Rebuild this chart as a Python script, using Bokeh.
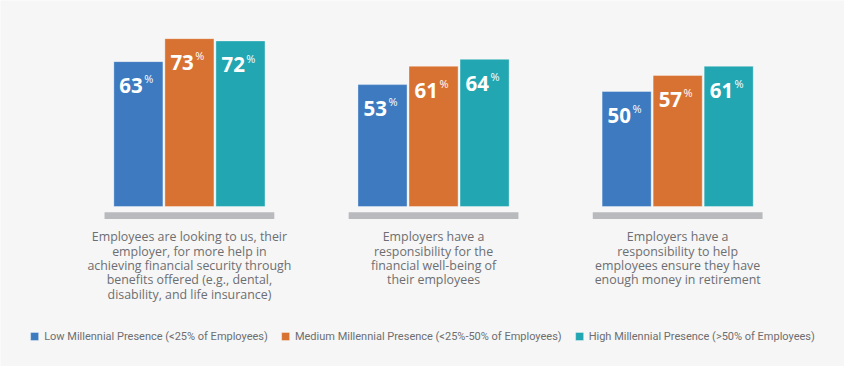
from bokeh.plotting import figure
from bokeh.models import ColumnDataSource, Legend, LegendItem, Range1d
from bokeh.core.properties import value
from bokeh.embed import file_html
from bokeh.resources import INLINE

categories = [
    "Employees are looking to us, their\nemployer, for more help in\nachieving financial security through\nbenefits offered (e.g., dental,\ndisability, and life insurance)",
    "Employers have a\nresponsibility for the\nfinancial well-being of\ntheir employees",
    "Employers have a\nresponsibility to help\nemployees ensure they have\nenough money in retirement",
]
series = [
    "Low Millennial Presence (<25% of Employees)",
    "Medium Millennial Presence (<25%-50% of Employees)",
    "High Millennial Presence (>50% of Employees)",
]
low = [63, 53, 50]
medium = [73, 61, 57]
high = [72, 64, 61]
values = [low, medium, high]
colors = ["#3d7abf", "#d87232", "#22a6b1"]

W, H = 844, 366
REFW, REFH = 860, 382
PX = 248.75          # reference pixels per group unit
YPX = 2.4            # reference pixels per percent
G0, BASE = 192.5, 215  # reference position of first group centre / bar base
SX, SY = W / REFW, H / REFH

p = figure(width=W, height=H, output_backend="svg", toolbar_location=None,
           x_axis_location=None, y_axis_location=None, min_border=0,
           x_range=Range1d(-G0 / PX, (REFW - G0) / PX),
           y_range=Range1d(-(REFH - BASE) / YPX, BASE / YPX))
p.grid.visible = False
p.outline_line_color = None
p.background_fill_color = "#f6f6f6"
p.border_fill_color = "#f6f6f6"

groups = list(range(len(categories)))
offsets = [-52 / PX, 0, 52 / PX]
bw = 50 / PX

items = []
for s, name in enumerate(series):
    xs = [g + offsets[s] for g in groups]
    src = ColumnDataSource(dict(x=xs, top=values[s],
                                num=[str(v) for v in values[s]],
                                pct=["%"] * len(xs)))
    r = p.vbar(x="x", top="top", bottom=0, width=bw, source=src,
               fill_color=colors[s], line_color="#ffffff", line_alpha=0.35, line_width=1)
    items.append(LegendItem(label=name, renderers=[r]))
    p.text(x="x", y="top", text="num", source=src, x_offset=4.5 * SX, y_offset=25 * SY,
           text_align="right", text_baseline="alphabetic",
           text_font=value("Open Sans"), text_font_style="bold",
           text_font_size="20.5px", text_color="white")
    p.text(x="x", y="top", text="pct", source=src, x_offset=6 * SX, y_offset=18 * SY,
           text_align="left", text_baseline="alphabetic",
           text_font=value("Open Sans"), text_font_size="11px", text_color="white")

# gray base bars
half = 86.5 / PX
p.quad(left=[g - half for g in groups], right=[g + half for g in groups],
       top=-6 / YPX, bottom=-13 / YPX, fill_color="#b9babd", line_color=None)

# category labels, one text per line
lx, ly, lt = [], [], []
for g, cat in zip(groups, categories):
    for i, line in enumerate(cat.split("\n")):
        lx.append(g)
        ly.append(-(31.7 + 15 * i) / YPX)
        lt.append(line)
p.text(x=lx, y=ly, text=lt, text_align="center", text_baseline="alphabetic",
       text_font=value("Open Sans"), text_font_size="12.4px", text_color="#6d6e71")

legend = Legend(items=items, orientation="horizontal", location="bottom_center",
                padding=0, margin=20, spacing=12, label_standoff=5,
                glyph_width=10, glyph_height=10, label_height=20,
                label_text_font="Roboto", label_text_font_size="11px",
                label_text_color="#6d6e71", border_line_color=None,
                background_fill_alpha=0)
p.add_layout(legend, "center")

open("out.html", "w").write(file_html(p, INLINE))
